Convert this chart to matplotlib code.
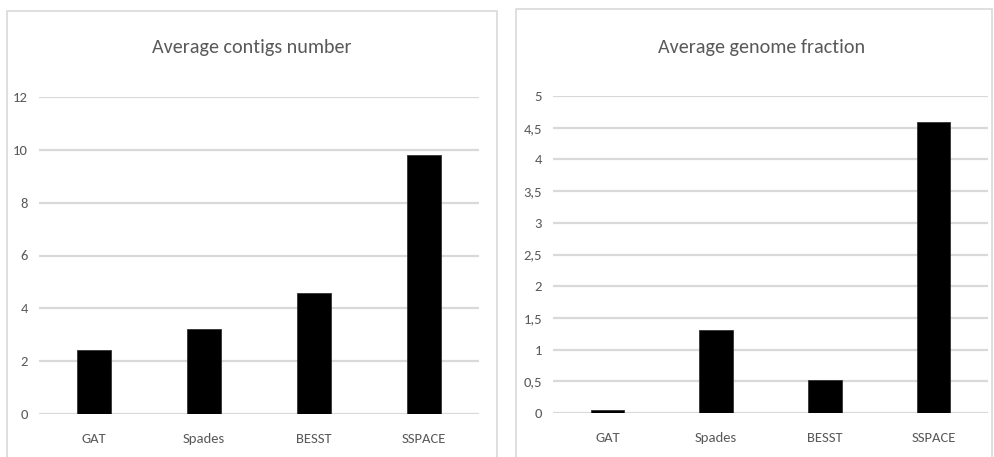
import matplotlib
matplotlib.use("Agg")
import matplotlib.pyplot as plt
from matplotlib.patches import Rectangle
from matplotlib import font_manager

# ---- data ----
categories = ["GAT", "Spades", "BESST", "SSPACE"]
contigs_values = [2.42, 3.22, 4.57, 9.82]
genome_values = [0.05, 1.31, 0.52, 4.59]
contigs_ticks = [0, 2, 4, 6, 8, 10, 12]
contigs_tick_labels = ["0", "2", "4", "6", "8", "10", "12"]
genome_ticks = [0, 0.5, 1, 1.5, 2, 2.5, 3, 3.5, 4, 4.5, 5]
genome_tick_labels = ["0", "0,5", "1", "1,5", "2", "2,5", "3", "3,5", "4", "4,5", "5"]
title_left = "Average contigs number"
title_right = "Average genome fraction"

available = {f.name for f in font_manager.fontManager.ttflist}
fam = "DejaVu Sans"
for cand in ["Carlito", "Liberation Sans Narrow", "Lato", "Liberation Sans"]:
    if cand in available:
        fam = cand
        break
plt.rcParams["font.family"] = [fam, "DejaVu Sans"]

W, H = 995, 457
fig = plt.figure(figsize=(W / 100, H / 100), dpi=100)
fig.patch.set_facecolor("white")

TXT = "#595959"
GRID = "#D9D9D9"


def px_rect(x0, y0, x1, y1):
    fig.add_artist(Rectangle((x0 / W, 1 - y1 / H), (x1 - x0) / W, (y1 - y0) / H,
                             transform=fig.transFigure, fill=False,
                             edgecolor=GRID, linewidth=1.2))


px_rect(7, 11, 497, 470)
px_rect(516, 9, 992, 470)


def make_axes(x0, x1, ytop, ybot):
    return fig.add_axes([x0 / W, 1 - ybot / H, (x1 - x0) / W, (ybot - ytop) / H])


def style(ax, values, ticks, labels, ymax, title, title_x):
    x = range(len(categories))
    ax.bar(x, values, width=0.31, color="black", edgecolor="#333333", linewidth=0.6, zorder=3)
    ax.set_xlim(-0.5, len(categories) - 0.5)
    ax.set_ylim(0, ymax)
    ax.set_yticks(ticks)
    ax.set_yticklabels(labels)
    ax.set_xticks(list(x))
    ax.set_xticklabels(categories)
    ax.tick_params(axis="both", length=0, colors=TXT, labelsize=10.5)
    ax.tick_params(axis="y", pad=8)
    ax.tick_params(axis="x", pad=14)
    for s in ax.spines.values():
        s.set_visible(False)
    ax.yaxis.grid(True, color=GRID, linewidth=1.6, zorder=0)
    ax.set_axisbelow(True)
    fig.text(title_x / W, 1 - 48 / H, title, ha="center", va="center",
             fontsize=14.5, color=TXT)


axL = make_axes(39, 479, 97, 414)
style(axL, contigs_values, contigs_ticks, contigs_tick_labels, 12, title_left, 252)

axR = make_axes(553, 988, 96, 413)
style(axR, genome_values, genome_ticks, genome_tick_labels, 5, title_right, 762)

fig.savefig("out.png", dpi=100, facecolor="white")
